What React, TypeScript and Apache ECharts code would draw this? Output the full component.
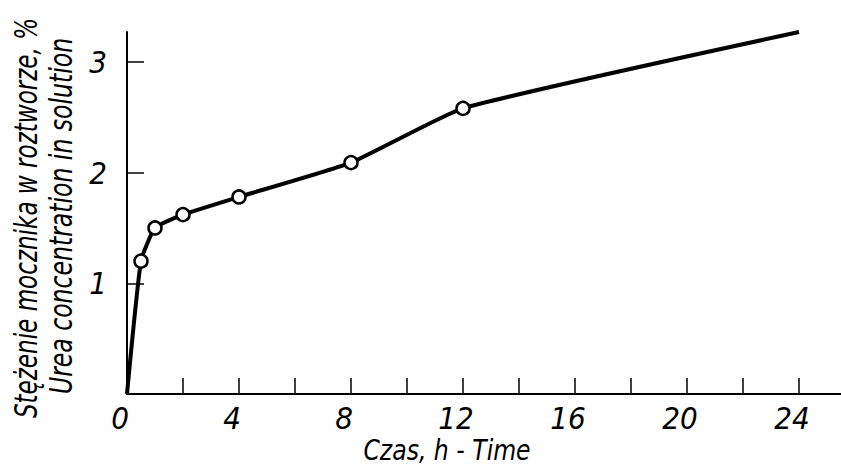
import React, { useEffect, useRef } from "react";
import * as echarts from "echarts";

const hours = [0, 0.5, 1, 2, 4, 8, 12, 24];
const concentration = [0, 1.2, 1.5, 1.62, 1.78, 2.09, 2.58, 3.27];
const xLabelValues = [0, 4, 8, 12, 16, 20, 24];
const xTickValues = [2, 4, 6, 8, 10, 12, 14, 16, 18, 20, 22, 24];
const yTickValues = [1, 2, 3];
const xTitle = "Czas, h - Time";
const yTitlePl = "Stężenie mocznika w roztworze, %";
const yTitleEn = "Urea concentration in solution";

const FONT = "'Liberation Sans Narrow', 'DejaVu Sans Condensed', 'Liberation Sans', sans-serif";

export default function App() {
  const ref = useRef<HTMLDivElement>(null);
  useEffect(() => {
    if (!ref.current) return;
    const chart = echarts.init(ref.current, null, { renderer: "svg" });
    const last = hours.length - 1;
    const data = hours.map((h, i) => {
      const item: any = { value: [h, concentration[i]] };
      if (i === 0 || i === last) item.symbol = "none";
      return item;
    });
    chart.setOption({
      animation: false,
      backgroundColor: "#ffffff",
      grid: { left: 127, right: 0, top: 32, bottom: 75, containLabel: false },
      xAxis: {
        type: "value",
        min: 0,
        max: 25.5,
        axisLine: { show: true, lineStyle: { color: "#000", width: 2 } },
        axisTick: {
          show: true,
          inside: true,
          length: 16,
          customValues: xTickValues,
          lineStyle: { color: "#000", width: 1.5 },
        },
        axisLabel: {
          customValues: xLabelValues,
          color: "#000",
          fontFamily: FONT,
          fontStyle: "italic",
          fontSize: 31,
          margin: 8,
          padding: [0, 14, 0, 0],
        },
        splitLine: { show: false },
      },
      yAxis: {
        type: "value",
        min: 0,
        max: 3.27,
        axisLine: { show: true, lineStyle: { color: "#000", width: 2 } },
        axisTick: {
          show: true,
          inside: true,
          length: 17,
          customValues: yTickValues,
          lineStyle: { color: "#000", width: 1.5 },
        },
        axisLabel: {
          customValues: yTickValues,
          color: "#000",
          fontFamily: FONT,
          fontStyle: "italic",
          fontSize: 31,
          margin: 20,
        },
        splitLine: { show: false },
      },
      graphic: [
        {
          type: "text",
          x: 447,
          y: 450,
          scaleX: 0.97,
          scaleY: 1.06,
          style: {
            text: xTitle,
            fill: "#000",
            font: `italic 27px ${FONT}`,
            align: "center",
            verticalAlign: "middle",
          },
        },
        {
          type: "text",
          x: 27,
          y: 218,
          rotation: Math.PI / 2,
          scaleX: 0.95,
          scaleY: 1.15,
          style: {
            text: yTitlePl,
            fill: "#000",
            font: `italic 27px ${FONT}`,
            align: "center",
            verticalAlign: "middle",
          },
        },
        {
          type: "text",
          x: 61,
          y: 216,
          rotation: Math.PI / 2,
          scaleX: 0.97,
          scaleY: 1.15,
          style: {
            text: yTitleEn,
            fill: "#000",
            font: `italic 27px ${FONT}`,
            align: "center",
            verticalAlign: "middle",
          },
        },
      ],
      series: [
        {
          type: "line",
          data,
          smooth: 0.15,
          symbol: "circle",
          symbolSize: 13,
          showSymbol: true,
          lineStyle: { color: "#000", width: 4 },
          itemStyle: { color: "#fff", borderColor: "#000", borderWidth: 2.5 },
          z: 3,
        },
      ],
    });
    return () => chart.dispose();
  }, []);
  return (
    <div
      ref={ref}
      style={{ position: "absolute", left: 0, top: 0, width: 841, height: 469 }}
    />
  );
}
